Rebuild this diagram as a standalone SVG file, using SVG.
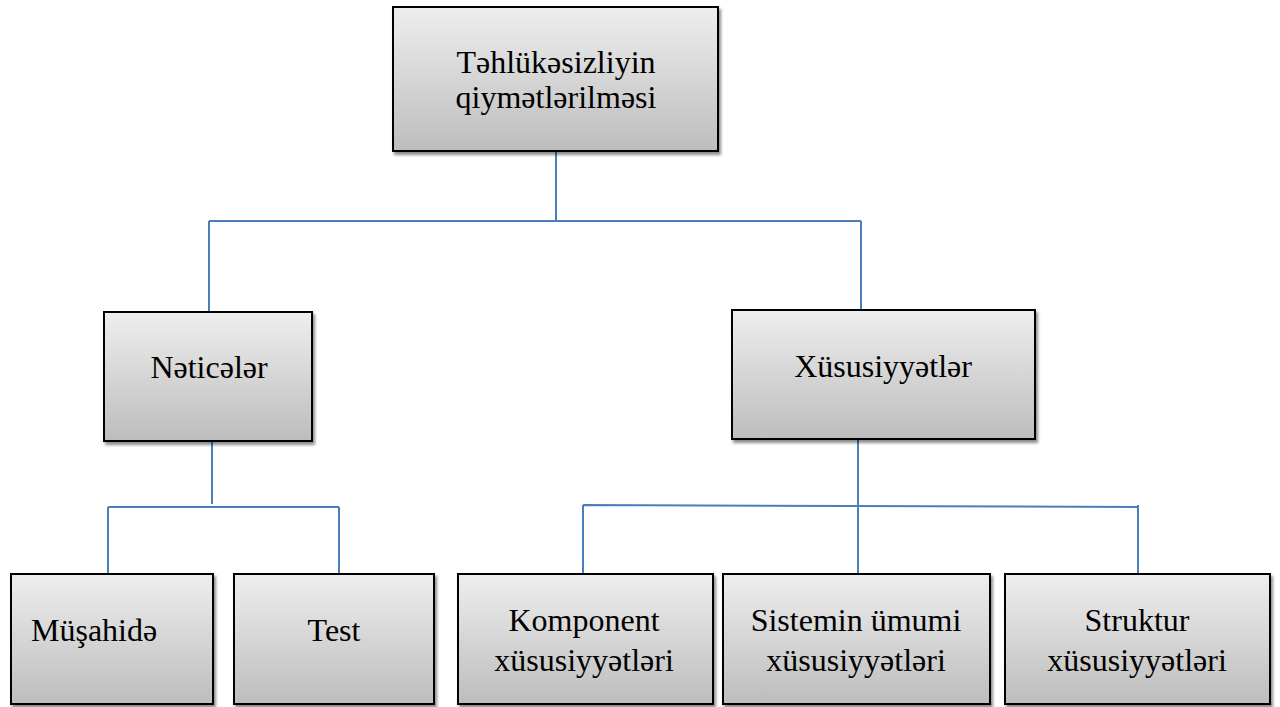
<svg xmlns="http://www.w3.org/2000/svg" width="1280" height="707" viewBox="0 0 1280 707">
<defs>
<linearGradient id="g" x1="0" y1="0" x2="0" y2="1">
<stop offset="0" stop-color="#eeeeee"/>
<stop offset="1" stop-color="#bdbdbd"/>
</linearGradient>
<filter id="sh" x="-5%" y="-5%" width="115%" height="115%">
<feDropShadow dx="2" dy="3" stdDeviation="1.5" flood-color="#000" flood-opacity="0.45"/>
</filter>
<style>
.box{fill:url(#g);stroke:#000;stroke-width:2;filter:url(#sh)}
.t{font-family:"Liberation Serif","Times New Roman","DejaVu Serif",serif;font-size:32px;fill:#000;text-anchor:middle}
.c{stroke:#4a7ebb;stroke-width:2;fill:none}
</style>
</defs>
<rect width="1280" height="707" fill="#fff"/>
<g id="connectors">
<path class="c" d="M556 151V220M209 221H861M209 221V313M861 221V310"/>
<path class="c" d="M212 441V504M108 507H339M108 507V575M339 507V577"/>
<path class="c" d="M858 439V575M583 505L1138 507M583 505V575M1138 505V575"/>
</g>
<g id="n-top"><rect class="box" x="393" y="7" width="325" height="144"/>
<text class="t" x="556" y="73">Təhlükəsizliyin</text><text class="t" x="556" y="108">qiymətlərilməsi</text></g>
<g id="n-neticeler"><rect class="box" x="104" y="312" width="208" height="129"/>
<text class="t" x="209" y="378">Nəticələr</text></g>
<g id="n-xususiyyetler"><rect class="box" x="732" y="310" width="303" height="129"/>
<text class="t" x="883" y="377">Xüsusiyyətlər</text></g>
<g id="n-musahide"><rect class="box" x="11" y="574" width="202" height="130"/>
<text class="t" x="31" y="641" style="text-anchor:start">Müşahidə</text></g>
<g id="n-test"><rect class="box" x="234" y="574" width="200" height="130"/>
<text class="t" x="334" y="641">Test</text></g>
<g id="n-komponent"><rect class="box" x="458" y="574" width="255" height="130"/>
<text class="t" x="584" y="631">Komponent</text><text class="t" x="584" y="671">xüsusiyyətləri</text></g>
<g id="n-sistemin"><rect class="box" x="723" y="574" width="267" height="130"/>
<text class="t" x="856" y="631">Sistemin ümumi</text><text class="t" x="856" y="671">xüsusiyyətləri</text></g>
<g id="n-struktur"><rect class="box" x="1005" y="574" width="265" height="130"/>
<text class="t" x="1137" y="631">Struktur</text><text class="t" x="1137" y="671">xüsusiyyətləri</text></g>
</svg>
